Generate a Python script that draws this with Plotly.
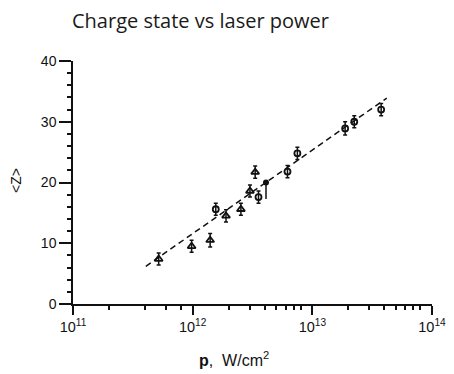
import plotly.graph_objects as go

# Data (laser intensity p in W/cm^2, mean charge <Z>)
tri_p = [5.2e11, 9.8e11, 1.40e12, 1.90e12, 2.53e12, 3.01e12, 3.33e12]
tri_z = [7.4, 9.5, 10.5, 14.5, 15.6, 18.6, 21.7]
tri_err = [1.0, 1.0, 1.1, 1.0, 1.0, 1.0, 1.0]

circ_p = [1.56e12, 3.55e12, 6.2e12, 7.5e12, 1.88e13, 2.24e13, 3.76e13]
circ_z = [15.6, 17.6, 21.8, 24.8, 28.9, 30.0, 32.0]
circ_err = [1.0, 1.0, 1.0, 1.0, 1.1, 1.0, 1.0]

fill_p = [4.1e12]
fill_z = [20.0]
fill_err_plus = [0.2]
fill_err_minus = [2.7]

fit_p = [4.06e11, 4.19e13]
fit_z = [6.2, 33.9]

x_tickvals = [1e11, 1e12, 1e13, 1e14]
x_ticktext = ["10<sup>11</sup>", "10<sup>12</sup>", "10<sup>13</sup>", "10<sup>14</sup>"]
x_minor = [2e11, 4e11, 6e11, 8e11,
           2e12, 3e12, 4e12, 5e12, 6e12, 7e12, 8e12,
           2e13, 3e13, 4e13, 5e13, 6e13, 7e13, 8e13]
y_tickvals = [0, 10, 20, 30, 40]

title_text = "Charge state vs laser power"
x_title = "<b>p</b>,  W/cm<sup>2</sup>"
y_title = "&lt;Z&gt;"

INK = "#111111"

# The page body has an 8px margin; the canvas is sized to the visible part of the window.
W, H = 446, 366

fig = go.Figure()

fig.add_trace(go.Scatter(
    x=fit_p, y=fit_z, mode="lines",
    line=dict(color=INK, width=1.5, dash="6px,4px"),
    showlegend=False, hoverinfo="skip"))

fig.add_trace(go.Scatter(
    x=tri_p, y=tri_z, mode="markers",
    marker=dict(symbol="triangle-up-open", size=7, color=INK, line=dict(width=1.8, color=INK)),
    error_y=dict(type="data", array=tri_err, color=INK, thickness=1.5, width=2),
    showlegend=False))

fig.add_trace(go.Scatter(
    x=circ_p, y=circ_z, mode="markers",
    marker=dict(symbol="circle-open", size=6, color=INK, line=dict(width=1.8, color=INK)),
    error_y=dict(type="data", array=circ_err, color=INK, thickness=1.5, width=2),
    showlegend=False))

fig.add_trace(go.Scatter(
    x=fill_p, y=fill_z, mode="markers",
    marker=dict(symbol="circle", size=6, color=INK),
    error_y=dict(type="data", symmetric=False, array=fill_err_plus,
                 arrayminus=fill_err_minus, color=INK, thickness=1.5, width=0),
    showlegend=False))

fig.update_layout(
    width=W, height=H,
    margin=dict(l=65, r=22, t=53, b=70),
    paper_bgcolor="white", plot_bgcolor="white",
    font=dict(family="Liberation Sans, Arial, sans-serif", color=INK, size=14),
    title=dict(text=title_text,
               font=dict(family="Open Sans, sans-serif", size=20, color="#1a1a1a"),
               x=64 / W, xref="container", xanchor="left",
               y=1 - 13 / H, yref="container", yanchor="middle",
               pad=dict(l=0, r=0, t=0, b=0)),
    xaxis=dict(type="log", range=[11, 14], automargin=False,
               tickvals=x_tickvals, ticktext=x_ticktext,
               ticks="outside", ticklen=9, tickwidth=1.5, tickcolor=INK,
               showline=True, linecolor=INK, linewidth=1.5,
               showgrid=False, zeroline=False,
               minor=dict(tickvals=x_minor, ticks="outside", ticklen=4,
                          tickwidth=1.5, tickcolor=INK, showgrid=False),
               tickfont=dict(size=14.5)),
    yaxis=dict(range=[0, 40], tickvals=y_tickvals, automargin=False,
               ticks="outside", ticklen=12, tickwidth=1.5, tickcolor=INK,
               showline=True, linecolor=INK, linewidth=1.5,
               showgrid=False, zeroline=False,
               minor=dict(dtick=2, ticks="outside", ticklen=4, tickwidth=1.5,
                          tickcolor=INK, showgrid=False),
               tickfont=dict(size=14)),
    annotations=[
        dict(text=x_title, xref="paper", yref="paper", x=0.448, y=-0.228,
             xanchor="center", yanchor="middle", showarrow=False,
             font=dict(size=16, color=INK)),
        dict(text=y_title, xref="paper", yref="paper", x=-0.159, y=0.51,
             xanchor="center", yanchor="middle", showarrow=False, textangle=-90,
             font=dict(size=14, color=INK)),
    ],
)

fig.write_html("out.html")
